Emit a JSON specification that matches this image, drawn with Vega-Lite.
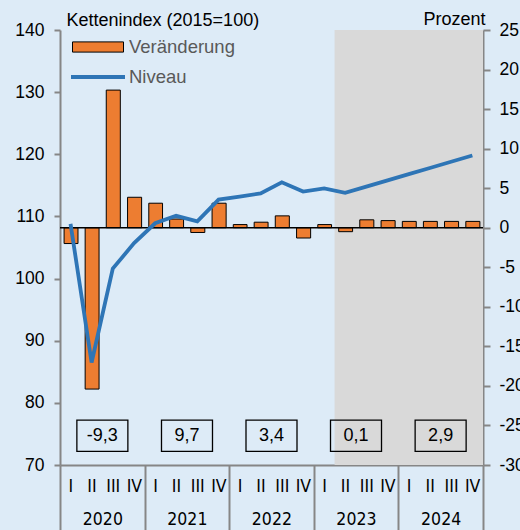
{
  "$schema": "https://vega.github.io/schema/vega-lite/v6.json",
  "width": 423,
  "height": 435,
  "autosize": {"type": "none"},
  "padding": {"left": 60, "top": 30, "right": 37, "bottom": 65},
  "background": "#DDEBF7",
  "datasets": {
    "quartale": [
      {"quartal": "2020-01-01", "veraenderung": -2.0, "niveau": 108.8},
      {"quartal": "2020-04-01", "veraenderung": -20.4, "niveau": 86.5},
      {"quartal": "2020-07-01", "veraenderung": 17.4, "niveau": 101.6},
      {"quartal": "2020-10-01", "veraenderung": 3.85, "niveau": 105.7},
      {"quartal": "2021-01-01", "veraenderung": 3.1, "niveau": 108.9},
      {"quartal": "2021-04-01", "veraenderung": 1.1, "niveau": 110.1},
      {"quartal": "2021-07-01", "veraenderung": -0.6, "niveau": 109.2},
      {"quartal": "2021-10-01", "veraenderung": 3.1, "niveau": 112.7},
      {"quartal": "2022-01-01", "veraenderung": 0.4, "niveau": 113.2},
      {"quartal": "2022-04-01", "veraenderung": 0.7, "niveau": 113.7},
      {"quartal": "2022-07-01", "veraenderung": 1.5, "niveau": 115.5},
      {"quartal": "2022-10-01", "veraenderung": -1.3, "niveau": 114.0},
      {"quartal": "2023-01-01", "veraenderung": 0.4, "niveau": 114.5},
      {"quartal": "2023-04-01", "veraenderung": -0.5, "niveau": 113.8},
      {"quartal": "2023-07-01", "veraenderung": 1.0, "niveau": 114.8},
      {"quartal": "2023-10-01", "veraenderung": 0.9, "niveau": 115.8},
      {"quartal": "2024-01-01", "veraenderung": 0.8, "niveau": 116.8},
      {"quartal": "2024-04-01", "veraenderung": 0.8, "niveau": 117.8},
      {"quartal": "2024-07-01", "veraenderung": 0.8, "niveau": 118.8},
      {"quartal": "2024-10-01", "veraenderung": 0.8, "niveau": 119.8}
    ],
    "jahre": [
      {"jahr": "2020", "wert": -9.3},
      {"jahr": "2021", "wert": 9.7},
      {"jahr": "2022", "wert": 3.4},
      {"jahr": "2023", "wert": 0.1},
      {"jahr": "2024", "wert": 2.9}
    ],
    "prognose": [
      {"von": "2023-04-01", "bis": "2025-01-01"}
    ]
  },
  "layer": [
    {
      "data": {"name": "prognose"},
      "mark": {"type": "rect", "color": "#D9D9D9"},
      "encoding": {
        "x": {
          "field": "von",
          "type": "temporal",
          "axis": {
            "orient": "bottom",
            "title": null,
            "grid": false,
            "domain": false,
            "labels": false,
            "values": [
              {"year": 2020, "month": 1, "date": 1, "utc": true},
              {"year": 2021, "month": 1, "date": 1, "utc": true},
              {"year": 2022, "month": 1, "date": 1, "utc": true},
              {"year": 2023, "month": 1, "date": 1, "utc": true},
              {"year": 2024, "month": 1, "date": 1, "utc": true},
              {"year": 2025, "month": 1, "date": 1, "utc": true}
            ],
            "tickSize": 66,
            "tickColor": "#868686",
            "tickWidth": 2
          }
        },
        "x2": {"field": "bis"}
      }
    },
    {
      "data": {"name": "quartale"},
      "mark": {"type": "bar", "stroke": "#000", "strokeWidth": 1, "width": {"band": 0.66}, "binSpacing": 0},
      "encoding": {
        "x": {
          "field": "quartal",
          "type": "temporal",
          "timeUnit": "utcyearquarter",
          "scale": {"type": "utc", "domain": [{"year": 2020, "month": 1, "date": 1, "utc": true}, {"year": 2025, "month": 1, "date": 1, "utc": true}]},
          "axis": {
            "orient": "bottom",
            "title": null,
            "grid": false,
            "ticks": false,
            "values": [
              {"year": 2020, "month": 2, "date": 15, "utc": true},
              {"year": 2020, "month": 5, "date": 16, "utc": true},
              {"year": 2020, "month": 8, "date": 16, "utc": true},
              {"year": 2020, "month": 11, "date": 15, "utc": true},
              {"year": 2021, "month": 2, "date": 15, "utc": true},
              {"year": 2021, "month": 5, "date": 16, "utc": true},
              {"year": 2021, "month": 8, "date": 16, "utc": true},
              {"year": 2021, "month": 11, "date": 15, "utc": true},
              {"year": 2022, "month": 2, "date": 15, "utc": true},
              {"year": 2022, "month": 5, "date": 16, "utc": true},
              {"year": 2022, "month": 8, "date": 16, "utc": true},
              {"year": 2022, "month": 11, "date": 15, "utc": true},
              {"year": 2023, "month": 2, "date": 15, "utc": true},
              {"year": 2023, "month": 5, "date": 16, "utc": true},
              {"year": 2023, "month": 8, "date": 16, "utc": true},
              {"year": 2023, "month": 11, "date": 15, "utc": true},
              {"year": 2024, "month": 2, "date": 15, "utc": true},
              {"year": 2024, "month": 5, "date": 16, "utc": true},
              {"year": 2024, "month": 8, "date": 16, "utc": true},
              {"year": 2024, "month": 11, "date": 15, "utc": true}
            ],
            "labelExpr": "['I','II','III','IV'][utcquarter(datum.value) - 1]",
            "labelPadding": 12,
            "domainColor": "#868686",
            "domainWidth": 2,
            "labelFont": "Liberation Sans Narrow, DejaVu Sans Condensed, Liberation Sans",
            "labelFontSize": 17.5,
            "labelColor": "#000",
            "labelOverlap": false,
            "labelBound": false,
            "labelFlush": false
          }
        },
        "y": {
          "field": "veraenderung",
          "type": "quantitative",
          "scale": {"domain": [-30, 25], "nice": false, "zero": false},
          "axis": {
            "orient": "right",
            "values": [-30, -25, -20, -15, -10, -5, 0, 5, 10, 15, 20, 25],
            "grid": false,
            "title": "Prozent",
            "titleAngle": 0,
            "titleAlign": "right",
            "titleBaseline": "alphabetic",
            "titleX": 2,
            "titleY": -6,
            "titleFont": "Liberation Sans",
            "titleFontSize": 18,
            "titleFontWeight": "normal",
            "titleColor": "#000",
            "tickSize": 7,
            "tickColor": "#868686",
            "tickWidth": 2,
            "domainColor": "#868686",
            "domainWidth": 2,
            "labelPadding": 9,
            "labelFont": "Liberation Sans",
            "labelFontSize": 17.5,
            "labelColor": "#000",
            "labelOverlap": false,
            "labelFlush": false,
            "labelBound": false
          }
        },
        "fill": {
          "datum": "Veränderung",
          "type": "nominal",
          "scale": {"range": ["#ED7D31"]},
          "legend": {
            "orient": "none",
            "legendX": 12,
            "legendY": -9,
            "title": null,
            "padding": 0,
            "symbolType": "M-1,-0.2L1,-0.2L1,0.2L-1,0.2Z",
            "symbolSize": 2601,
            "symbolStrokeColor": "#000",
            "symbolStrokeWidth": 1,
            "labelFont": "Liberation Sans",
            "labelFontSize": 18.5,
            "labelColor": "#595959",
            "labelOffset": 5
          }
        }
      }
    },
    {
      "data": {"name": "prognose"},
      "mark": {"type": "rule", "color": "#000", "strokeWidth": 1.5},
      "encoding": {
        "y": {"datum": 0, "type": "quantitative", "scale": {"domain": [-30, 25], "nice": false, "zero": false}, "axis": null}
      }
    },
    {
      "data": {"name": "jahre"},
      "mark": {"type": "point", "shape": "M-1,-0.61L1,-0.61L1,0.61L-1,0.61Z", "size": 2601, "filled": false, "stroke": "#000", "strokeWidth": 1.3, "opacity": 1},
      "encoding": {
        "x": {
          "field": "jahr",
          "type": "temporal",
          "timeUnit": "utcyear",
          "bandPosition": 0.5,
          "axis": {
            "orient": "bottom",
            "title": null,
            "grid": false,
            "domain": false,
            "ticks": false,
            "values": [
              {"year": 2020, "month": 7, "date": 2, "utc": true},
              {"year": 2021, "month": 7, "date": 2, "utc": true},
              {"year": 2022, "month": 7, "date": 2, "utc": true},
              {"year": 2023, "month": 7, "date": 2, "utc": true},
              {"year": 2024, "month": 7, "date": 2, "utc": true}
            ],
            "labelExpr": "utcFormat(datum.value, '%Y')",
            "labelPadding": 45,
            "labelFont": "Liberation Sans Narrow, DejaVu Sans Condensed, Liberation Sans",
            "labelFontSize": 17.5,
            "labelColor": "#000",
            "labelOverlap": false,
            "labelBound": false,
            "labelFlush": false
          }
        },
        "y": {"datum": -26.3, "type": "quantitative", "scale": {"domain": [-30, 25], "nice": false, "zero": false}, "axis": null}
      }
    },
    {
      "data": {"name": "jahre"},
      "mark": {"type": "text", "font": "Liberation Sans", "fontSize": 18, "color": "#000", "baseline": "middle", "align": "center"},
      "encoding": {
        "x": {"field": "jahr", "type": "temporal", "timeUnit": "utcyear", "bandPosition": 0.5, "axis": null},
        "y": {"datum": -26.3, "type": "quantitative", "scale": {"domain": [-30, 25], "nice": false, "zero": false}, "axis": null},
        "text": {"field": "wert", "type": "quantitative", "format": ".1f"}
      }
    },
    {
      "data": {"name": "quartale"},
      "mark": {"type": "line", "strokeWidth": 3.8},
      "encoding": {
        "x": {"field": "quartal", "type": "temporal", "timeUnit": "utcyearquarter", "bandPosition": 0.5, "axis": null},
        "y": {
          "field": "niveau",
          "type": "quantitative",
          "scale": {"domain": [70, 140], "nice": false, "zero": false},
          "axis": {
            "orient": "left",
            "values": [70, 80, 90, 100, 110, 120, 130, 140],
            "grid": false,
            "title": "Kettenindex (2015=100)",
            "titleAngle": 0,
            "titleAlign": "left",
            "titleBaseline": "alphabetic",
            "titleX": 6,
            "titleY": -5,
            "titleFont": "Liberation Sans",
            "titleFontSize": 18,
            "titleFontWeight": "normal",
            "titleColor": "#000",
            "tickSize": 6,
            "tickColor": "#868686",
            "tickWidth": 2,
            "domainColor": "#868686",
            "domainWidth": 2,
            "labelPadding": 10,
            "labelFont": "Liberation Sans",
            "labelFontSize": 17.5,
            "labelColor": "#000",
            "labelOverlap": false,
            "labelFlush": false,
            "labelBound": false
          }
        },
        "stroke": {
          "datum": "Niveau",
          "type": "nominal",
          "scale": {"range": ["#2E75B6"]},
          "legend": {
            "orient": "none",
            "legendX": 9,
            "legendY": 18,
            "title": null,
            "padding": 0,
            "symbolType": "stroke",
            "symbolSize": 2916,
            "symbolStrokeWidth": 4,
            "labelFont": "Liberation Sans",
            "labelFontSize": 18.5,
            "labelColor": "#595959",
            "labelOffset": 2
          }
        }
      }
    }
  ],
  "resolve": {"scale": {"y": "independent"}, "axis": {"x": "independent"}},
  "config": {
    "view": {"stroke": null},
    "font": "Liberation Sans",
    "locale": {
      "number": {"decimal": ",", "thousands": ".", "grouping": [3], "currency": ["", " €"], "minus": "-"}
    }
  }
}
